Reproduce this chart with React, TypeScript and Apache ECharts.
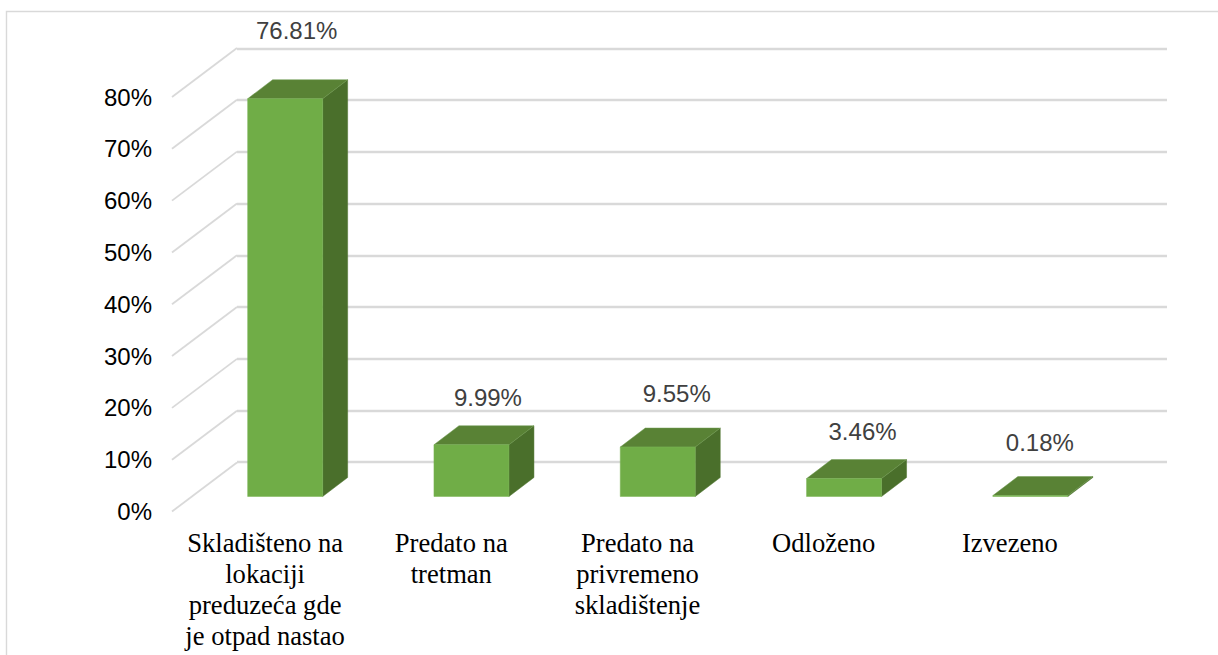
import React, { useEffect, useRef } from "react";
import * as echarts from "echarts";

const categories = [
  "Skladišteno na\nlokaciji\npreduzeća gde\nje otpad nastao",
  "Predato na\ntretman",
  "Predato na\nprivremeno\nskladištenje",
  "Odloženo",
  "Izvezeno",
];
const shares = [76.81, 9.99, 9.55, 3.46, 0.18];
const shareLabels = ["76.81%", "9.99%", "9.55%", "3.46%", "0.18%"];
const percentTicks = [0, 10, 20, 30, 40, 50, 60, 70, 80];

// Layout of the hand-placed data labels (dx, dy from the top centre of the front face)
const labelNudgeX = [11.5, 16.5, 19, 18.5, 9.5];
const labelNudgeY = [68.5, 47.7, 54, 47, 53];

const SANS = '"Liberation Sans", Arial, sans-serif';
const SERIF = '"Liberation Serif", "Times New Roman", serif';
const GRID_LINE = "#d9d9d9";
const BAR_WIDTH = 75;
const BAR_DX = 25;
const BAR_DY = 19;
const WALL_DX = 65;
const WALL_DY = 49;

function renderWallDiagonal(params: any, api: any) {
  const p = api.coord([0, api.value(1)]);
  const x0 = params.coordSys.x;
  return {
    type: "line",
    silent: true,
    shape: { x1: x0, y1: p[1], x2: x0 + WALL_DX, y2: p[1] - WALL_DY },
    style: { stroke: GRID_LINE, lineWidth: 1.8 },
  };
}

function renderBar(params: any, api: any) {
  const i = api.value(0);
  const top = api.coord([i, api.value(1)]);
  const base = api.coord([i, 0]);
  const l = top[0] - BAR_WIDTH / 2;
  const r = top[0] + BAR_WIDTH / 2;
  const t = top[1];
  const b = base[1];
  return {
    type: "group",
    children: [
      {
        type: "polygon",
        shape: { points: [[r, t], [r + BAR_DX, t - BAR_DY], [r + BAR_DX, b - BAR_DY], [r, b]] },
        style: { fill: "#4a6f2b", stroke: "#4f752f", lineWidth: 0.5 },
      },
      {
        type: "polygon",
        shape: { points: [[l, t], [l + BAR_DX, t - BAR_DY], [r + BAR_DX, t - BAR_DY], [r, t]] },
        style: { fill: "#598235", stroke: "#6f9a50", lineWidth: 0.5 },
      },
      {
        type: "rect",
        shape: { x: l, y: t, width: BAR_WIDTH, height: b - t },
        style: { fill: "#70ad47", stroke: "#7ab454", lineWidth: 0.5 },
      },
      {
        type: "text",
        style: {
          text: shareLabels[i],
          x: top[0] + labelNudgeX[i],
          y: t - labelNudgeY[i],
          align: "center",
          verticalAlign: "middle",
          fontFamily: SANS,
          fontSize: 24,
          fill: "#404040",
        },
      },
    ],
  };
}

export default function App() {
  const ref = useRef<HTMLDivElement>(null);

  useEffect(() => {
    document.body.style.margin = "0";
    document.documentElement.style.overflow = "hidden";
    const chart = echarts.init(ref.current!, null, { renderer: "svg" });
    chart.setOption({
      animation: false,
      backgroundColor: "#ffffff",
      grid: [
        // back wall (grid lines)
        { left: 237, top: 48.5, width: 930, height: 413.5 },
        // front plane (axis labels, wall diagonals)
        { left: 172, top: 97, width: 931, height: 414.5 },
        // plane in which the bars stand
        { left: 192, top: 82.2, width: 931.5, height: 414.3 },
      ],
      xAxis: [
        { gridIndex: 0, type: "category", data: categories, show: false },
        {
          gridIndex: 1,
          type: "category",
          data: categories,
          axisLine: { show: false },
          axisTick: { show: false },
          axisLabel: {
            interval: 0,
            margin: 16,
            fontFamily: SERIF,
            fontSize: 26.6,
            lineHeight: 31,
            color: "#000000",
            align: "center",
            verticalAlign: "top",
          },
        },
        { gridIndex: 2, type: "category", data: categories, show: false },
      ],
      yAxis: [
        {
          gridIndex: 0,
          type: "value",
          min: 0,
          max: 80,
          interval: 10,
          axisLine: { show: false },
          axisTick: { show: false },
          axisLabel: { show: false },
          splitLine: { show: true, lineStyle: { color: GRID_LINE, width: 2.4 } },
        },
        {
          gridIndex: 1,
          type: "value",
          min: 0,
          max: 80,
          interval: 10,
          axisLine: { show: false },
          axisTick: { show: false },
          splitLine: { show: false },
          axisLabel: {
            margin: 20,
            fontFamily: SANS,
            fontSize: 24,
            color: "#000000",
            formatter: "{value}%",
          },
        },
        {
          gridIndex: 2,
          type: "value",
          min: 0,
          max: 80,
          interval: 10,
          show: false,
          splitLine: { show: false },
        },
      ],
      series: [
        {
          type: "custom",
          name: "wall",
          xAxisIndex: 1,
          yAxisIndex: 1,
          silent: true,
          data: percentTicks.map((t) => [0, t]),
          encode: { x: 0, y: 1 },
          renderItem: renderWallDiagonal,
        },
        {
          type: "custom",
          name: "shares",
          xAxisIndex: 2,
          yAxisIndex: 2,
          silent: true,
          data: shares.map((v, i) => [i, v]),
          encode: { x: 0, y: 1 },
          renderItem: renderBar,
        },
      ],
      graphic: [
        {
          type: "polyline",
          silent: true,
          shape: { points: [[6.5, 655], [6.5, 11.5], [1218, 11.5]] },
          style: { stroke: GRID_LINE, lineWidth: 1.4, fill: "none" },
        },
      ],
    });
    return () => chart.dispose();
  }, []);

  return <div ref={ref} style={{ width: 1218, height: 655 }} />;
}
